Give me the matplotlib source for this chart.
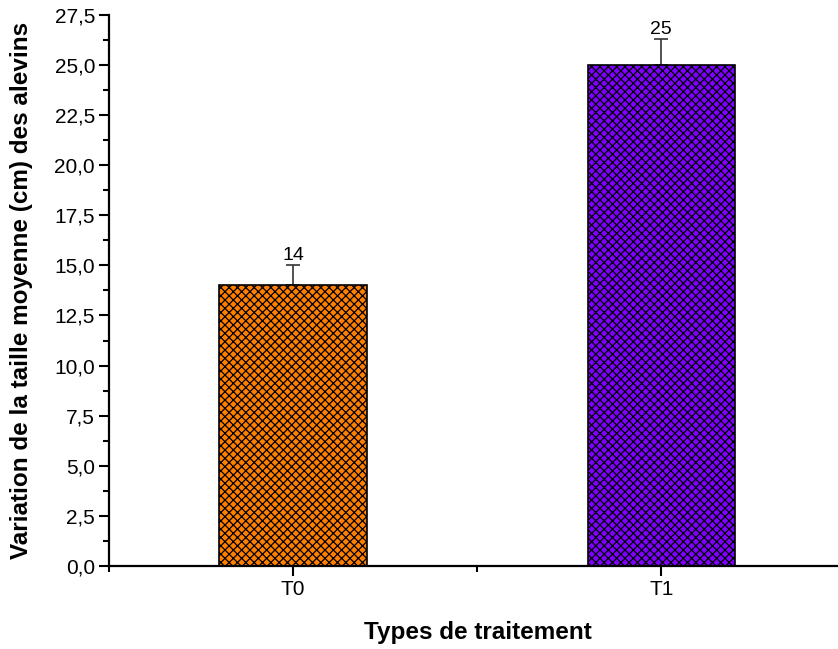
import numpy as np
import matplotlib.pyplot as plt
from matplotlib.ticker import MultipleLocator

plt.rcParams['font.family'] = ['Liberation Sans', 'DejaVu Sans']
plt.rcParams['hatch.linewidth'] = 0.9

treatments = ['T0', 'T1']
means = [14, 25]
errors = [1.0, 1.3]
colors = ['#FF8000', '#7F00FF']

fig = plt.figure(figsize=(8.38, 6.49), dpi=100)
ax = fig.add_axes([0.130, 0.128, 0.870, 0.849])

x = np.arange(1, len(treatments) + 1)
ax.bar(x, means, width=0.4, color=colors, edgecolor='black',
       linewidth=1.2, hatch='xxxx', zorder=2)
ax.errorbar(x, means, yerr=[[0, 0], errors], fmt='none', ecolor='#333333',
            elinewidth=1.2, capsize=5, capthick=1.2, zorder=1)
for xi, m, e in zip(x, means, errors):
    ax.annotate(str(m), (xi, m + e), xytext=(0, 1), textcoords='offset points',
                ha='center', va='bottom', fontsize=14)

ax.set_xlim(0.5, 2.48)
ax.set_ylim(0, 27.5)
ax.set_xticks(x)
ax.set_xticklabels(treatments)
ax.xaxis.set_minor_locator(MultipleLocator(0.5))
ax.yaxis.set_major_locator(MultipleLocator(2.5))
ax.yaxis.set_minor_locator(MultipleLocator(1.25))
ax.yaxis.set_major_formatter(plt.FuncFormatter(lambda v, p: f'{v:.1f}'.replace('.', ',')))

for s in ['top', 'right']:
    ax.spines[s].set_visible(False)
for s in ['left', 'bottom']:
    ax.spines[s].set_linewidth(1.6)
ax.tick_params(which='major', direction='out', length=7, width=1.5, labelsize=15, pad=3)
ax.tick_params(which='minor', direction='out', length=4, width=1.5)

ax.set_xlabel('Types de traitement', fontsize=17.5, fontweight='bold')
ax.set_ylabel('Variation de la taille moyenne (cm) des alevins', fontsize=17.5,
              fontweight='bold')
ax.xaxis.set_label_coords(0.5 * (1 - 0) + (478 - 109 - 364.5) / 729, -0.1)
ax.yaxis.set_label_coords(-0.104, 0.5)

fig.savefig('out.png', dpi=100)
